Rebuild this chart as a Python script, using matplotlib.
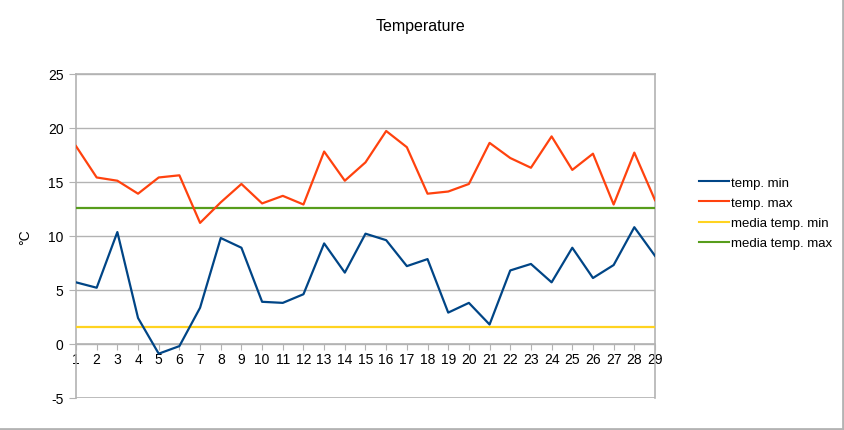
import matplotlib
matplotlib.use("Agg")
import matplotlib.pyplot as plt
from matplotlib.lines import Line2D

plt.rcParams['font.family'] = ['Liberation Sans', 'DejaVu Sans']

days = list(range(1, 30))
temp_min = [5.7, 5.2, 10.35, 2.4, -0.9, -0.2, 3.35, 9.8, 8.9, 3.9, 3.8, 4.6, 9.3, 6.6, 10.2,
            9.6, 7.2, 7.85, 2.9, 3.8, 1.8, 6.8, 7.4, 5.7, 8.9, 6.1, 7.3, 10.8, 8.15]
temp_max = [18.3, 15.4, 15.1, 13.9, 15.4, 15.6, 11.2, 13.1, 14.8, 13.0, 13.7, 12.9, 17.8, 15.1, 16.8,
            19.7, 18.2, 13.9, 14.1, 14.8, 18.6, 17.2, 16.3, 19.2, 16.1, 17.6, 12.9, 17.7, 13.3]
media_min = 1.6
media_max = 12.6
yticks = [-5, 0, 5, 10, 15, 20, 25]
labels = ["temp. min", "temp. max", "media temp. min", "media temp. max"]
colors = ["#004586", "#ff420e", "#ffd320", "#579d1c"]

fig = plt.figure(figsize=(8.44, 4.31), dpi=100)
ax = fig.add_axes([76/844, 1-399/431, (655-76)/844, (399-74.7)/431])

lw = 1.6
ax.plot(days, temp_min, color=colors[0], lw=lw, label=labels[0], zorder=4)
ax.plot(days, temp_max, color=colors[1], lw=lw, label=labels[1], zorder=4)
ax.plot(days, [media_min]*len(days), color=colors[2], lw=lw, label=labels[2], zorder=3)
ax.plot(days, [media_max]*len(days), color=colors[3], lw=lw, label=labels[3], zorder=3)

ax.set_xlim(1, 29)
ax.set_ylim(-5, 25)
ax.set_yticks(yticks)
ax.set_yticklabels([str(v) for v in yticks])
ax.yaxis.grid(True, color="#b3b3b3", lw=1)
ax.set_axisbelow(True)

for s in ["left", "right", "top"]:
    ax.spines[s].set_color("#b3b3b3")
    ax.spines[s].set_linewidth(1.2)
ax.spines["bottom"].set_position(("data", 0))
ax.spines["bottom"].set_color("#b3b3b3")
ax.spines["bottom"].set_linewidth(1.2)
ax.axhline(-5, color="#b3b3b3", lw=1.2, zorder=1)

ax.set_xticks(days)
ax.set_xticklabels([str(d) for d in days])
ax.tick_params(axis="x", direction="out", length=4, color="#b3b3b3", labelsize=10, pad=2)
ax.tick_params(axis="y", direction="out", length=5, color="#b3b3b3", labelsize=10, pad=4)

fig.text(25/844, 1-237/431, "°C", rotation=90, ha="center", va="center", fontsize=10)

fig.text(421/844, 1-27/431, "Temperature", ha="center", va="center", fontsize=11.5)

handles = [Line2D([0], [0], color=c, lw=1.5) for c in colors]
fig.legend(handles, labels, loc="center left", bbox_to_anchor=(699/844, 1-214/431),
           frameon=False, fontsize=9.5, handlelength=2.3, handletextpad=0.15,
           labelspacing=0.6, borderpad=0, borderaxespad=0)

# figure border (right and bottom)
fig.add_artist(Line2D([1-1/844, 1-1/844], [0, 1], transform=fig.transFigure, color="#b3b3b3", lw=2))
fig.add_artist(Line2D([0, 1], [1/431, 1/431], transform=fig.transFigure, color="#b3b3b3", lw=2))

fig.savefig("out.png", dpi=100)
